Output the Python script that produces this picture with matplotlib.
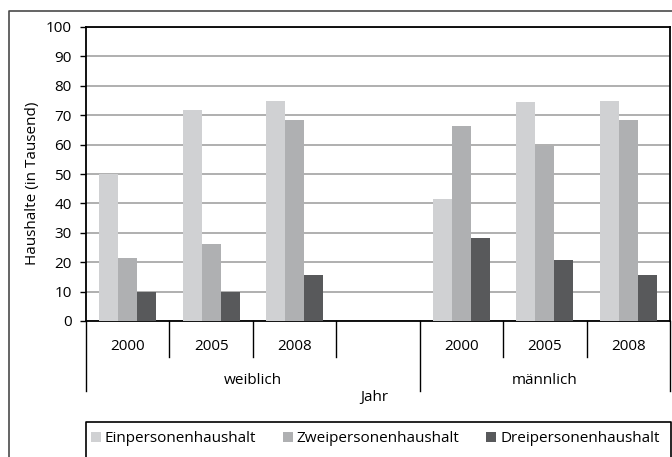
import matplotlib
matplotlib.use("Agg")
import matplotlib.pyplot as plt
from matplotlib.lines import Line2D
import matplotlib.transforms as mtransforms
import numpy as np

plt.rcParams['font.family'] = ['Open Sans', 'DejaVu Sans']

slot_labels = ["2000", "2005", "2008", "", "2000", "2005", "2008"]
groups = ["weiblich", "männlich"]
series_names = ["Einpersonenhaushalt", "Zweipersonenhaushalt", "Dreipersonenhaushalt"]
ein = [50, 71.7, 75, np.nan, 41.4, 74.4, 75]
zwei = [21.4, 26.1, 68.3, np.nan, 66.2, 59.4, 68.3]
drei = [10, 10, 15.5, np.nan, 28.1, 20.6, 15.5]
colors = ["#d0d1d3", "#afb0b2", "#58595b"]

FS = 11
W, H = 672, 457
fig = plt.figure(figsize=(W / 100, H / 100), dpi=100)
ax = fig.add_axes([86 / W, 1 - 321 / H, (670 - 86) / W, (321 - 27) / H])

x = np.arange(len(slot_labels))
bw = 0.228
for i, (vals, c, name) in enumerate(zip([ein, zwei, drei], colors, series_names)):
    ax.bar(x + (i - 1) * bw, vals, width=bw, color=c, label=name, zorder=3)

ax.set_xlim(-0.5, len(slot_labels) - 0.5)
ax.set_ylim(0, 100)
ax.set_yticks(np.arange(0, 101, 10))
ax.yaxis.grid(True, color="#a9a9a9", linewidth=1.3, zorder=0)
ax.set_axisbelow(True)
for s in ax.spines.values():
    s.set_color("black")
    s.set_linewidth(1.3)
ax.tick_params(axis='y', length=4.3, width=1.0, pad=6, labelsize=FS)

ax.set_xticks(x)
ax.set_xticklabels(slot_labels, fontsize=FS)
ax.tick_params(axis='x', length=0, pad=18)
for lab in ax.get_xticklabels():
    lab.set_va('center')

ax.set_ylabel("Haushalte (in Tausend)", fontsize=FS)
ax.yaxis.set_label_coords(-0.078, 0.47)

trans = mtransforms.blended_transform_factory(ax.transData, ax.transAxes)
ah = 321 - 27
# inner dividers
for b in np.arange(0.5, len(slot_labels) - 1, 1.0):
    if b == 3.5:
        continue
    ax.add_line(Line2D([b, b], [0, -36 / ah], transform=trans, color="black", lw=1.0, clip_on=False))
# group dividers
for b in [-0.5, 3.5, len(slot_labels) - 0.5]:
    ax.add_line(Line2D([b, b], [0, -70 / ah], transform=trans, color="black", lw=1.0, clip_on=False))
ax.text(1.5, -60 / ah, groups[0], transform=trans, ha='center', va='center', fontsize=FS)
ax.text(5.0, -60 / ah, groups[1], transform=trans, ha='center', va='center', fontsize=FS)
ax.text(2.95, -76 / ah, "Jahr", transform=trans, ha='center', va='center', fontsize=FS)

# outer chart frame
fig.add_artist(Line2D([9 / W, 9 / W, 1.2], [-0.2, 1 - 11 / H, 1 - 11 / H],
                      transform=fig.transFigure, color="#4a4a4a", lw=1.2, clip_on=False))
# legend frame
fig.add_artist(Line2D([86 / W, 86 / W, 671 / W, 671 / W], [-0.2, 1 - 422 / H, 1 - 422 / H, -0.2],
                      transform=fig.transFigure, color="black", lw=1.2, clip_on=False))

leg = fig.legend(loc='center left', bbox_to_anchor=(91 / W, 1 - 439 / H), ncol=3,
                 frameon=False, fontsize=FS, handlelength=0.65, handleheight=0.65,
                 handletextpad=0.25, columnspacing=1.75, borderaxespad=0, borderpad=0)

fig.savefig("out.png", dpi=100)
